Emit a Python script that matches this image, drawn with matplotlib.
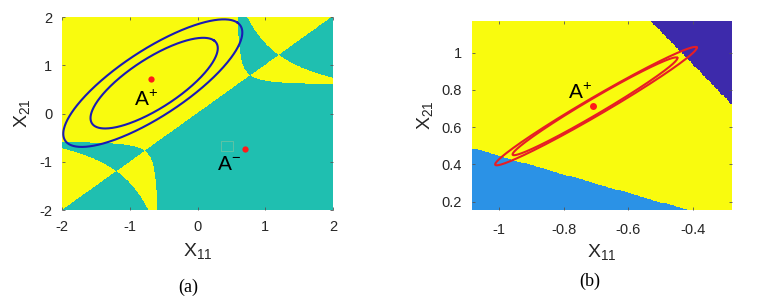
import numpy as np
import matplotlib
matplotlib.use("Agg")
import matplotlib.pyplot as plt

plt.rcParams["font.family"] = ["Liberation Sans", "DejaVu Sans"]
plt.rcParams["mathtext.fontset"] = "custom"
plt.rcParams["mathtext.rm"] = "Liberation Sans"
plt.rcParams["mathtext.it"] = "Liberation Sans"
plt.rcParams["axes.unicode_minus"] = False

YELLOW = "#f9fb0e"
TEAL = "#1fbfb0"
DARKBLUE = "#3d2aab"
LIGHTBLUE = "#2b92e6"
TXT = "#262626"

# ---- panel (a) data ----
xlim_a = (-2, 2)
ylim_a = (-2, 2)
ticks_a = [-2, -1, 0, 1, 2]
# corner boundary curves (x+a)(y+a)=k, mirrored in the upper right corner
curve_a = [0.06, 0.56]
curve_k = [1.30, 0.0484]
# blue ellipses: centre, semi axis along the diagonal, semi axis across it
ell_a_cx = [-0.66, -0.64]
ell_a_cy = [0.63, 0.63]
ell_a_major = [1.77, 1.25]
ell_a_minor = [0.60, 0.45]
point_plus_a = (-0.69, 0.71)
point_minus_a = (0.70, -0.73)

# ---- panel (b) data ----
xlim_b = (-1.085, -0.28)
ylim_b = (0.155, 1.17)
xticks_b = [-1, -0.8, -0.6, -0.4]
yticks_b = [0.2, 0.4, 0.6, 0.8, 1.0]
xtick_labels_b = ["-1", "-0.8", "-0.6", "-0.4"]
ytick_labels_b = ["0.2", "0.4", "0.6", "0.8", "1"]
# straight boundaries: point on line and slope
dark_line = (-0.5325, 1.17, -1.78)
light_line = (-1.085, 0.484, -0.495)
# red ellipses: centre, major half vector, minor half vector
ell_b_cx = [-0.700, -0.703]
ell_b_cy = [0.713, 0.712]
ell_b_major = [(0.312, 0.315), (0.255, 0.260)]
ell_b_minor = [(-0.0140, 0.0420), (-0.0120, 0.0365)]
point_plus_b = (-0.708, 0.712)


def inside(x, y, a, k):
    return (x + a < 0) & (y + a < 0) & ((x + a) * (y + a) > k)


fig = plt.figure(figsize=(7.62, 3.04), dpi=100)

# ================= (a) =================
ax = fig.add_axes([0.0814, 0.309, 0.3556, 0.635])
xs = np.linspace(xlim_a[0], xlim_a[1], 900)
ys = np.linspace(ylim_a[0], ylim_a[1], 900)
X, Y = np.meshgrid(xs, ys)
g = np.ones_like(X)
for a, k in zip(curve_a, curve_k):
    g = g * np.where(inside(X, Y, a, k), -1, 1)
    g = g * np.where(inside(-X, -Y, a, k), -1, 1)
cls = ((Y - X) * g > 0).astype(float)
cmap_a = matplotlib.colors.ListedColormap([TEAL, YELLOW])
ax.imshow(cls, extent=[xlim_a[0], xlim_a[1], ylim_a[0], ylim_a[1]],
          origin="lower", cmap=cmap_a, aspect="auto", interpolation="nearest")

t = np.linspace(0, 2 * np.pi, 400)
for cx, cy, A, B in zip(ell_a_cx, ell_a_cy, ell_a_major, ell_a_minor):
    ex = cx + (A * np.cos(t) - B * np.sin(t)) / np.sqrt(2)
    ey = cy + (A * np.cos(t) + B * np.sin(t)) / np.sqrt(2)
    ax.plot(ex, ey, color="#1a1ab4", lw=1.5)

ax.plot(*point_plus_a, "o", color="#ff1a1a", ms=4.5, mec="none")
ax.plot(*point_minus_a, "o", color="#ff1a1a", ms=4.5, mec="none")
ax.text(-0.76, 0.15, r"$\mathrm{A}^{+}$", fontsize=15, color="black",
        ha="center", va="baseline")
ax.text(0.47, -1.18, r"$\mathrm{A}^{-}$", fontsize=15, color="black",
        ha="center", va="baseline")
ax.add_patch(plt.Rectangle((0.34, -0.77), 0.19, 0.21, fill=False,
                           ec="#9ac79a", lw=0.5, alpha=0.7))

ax.set_xlim(xlim_a)
ax.set_ylim(ylim_a)
ax.set_xticks(ticks_a)
ax.set_yticks(ticks_a)
ax.set_xlabel(r"X$_{11}$", fontsize=14, color=TXT, labelpad=5)
ax.set_ylabel(r"X$_{21}$", fontsize=14, color=TXT, labelpad=5)

# ================= (b) =================
bx = fig.add_axes([0.619, 0.309, 0.341, 0.622])
xs = np.arange(xlim_b[0], xlim_b[1] + 0.004, 0.004)
ys = np.arange(ylim_b[0], ylim_b[1] + 0.005, 0.005)
X, Y = np.meshgrid(xs, ys)
cls = np.full(X.shape, 1.0)
x0, y0, s = light_line
cls[Y < y0 + s * (X - x0)] = 0
x0, y0, s = dark_line
cls[Y > y0 + s * (X - x0)] = 2
cmap_b = matplotlib.colors.ListedColormap([LIGHTBLUE, YELLOW, DARKBLUE])
bx.imshow(cls, extent=[xs[0], xs[-1], ys[0], ys[-1]], origin="lower",
          cmap=cmap_b, vmin=-0.5, vmax=2.5, aspect="auto",
          interpolation="nearest")

for cx, cy, (ux, uy), (vx, vy) in zip(ell_b_cx, ell_b_cy, ell_b_major, ell_b_minor):
    ex = cx + ux * np.cos(t) + vx * np.sin(t)
    ey = cy + uy * np.cos(t) + vy * np.sin(t)
    bx.plot(ex, ey, color="#e61e24", lw=1.5)

bx.plot(*point_plus_b, "o", color="#ff1a1a", ms=5, mec="none")
bx.text(-0.748, 0.751, r"$\mathrm{A}^{+}$", fontsize=15, color="black",
        ha="center", va="baseline")

bx.set_xlim(xlim_b)
bx.set_ylim(ylim_b)
bx.set_xticks(xticks_b)
bx.set_xticklabels(xtick_labels_b)
bx.set_yticks(yticks_b)
bx.set_yticklabels(ytick_labels_b)
bx.set_xlabel(r"X$_{11}$", fontsize=14, color=TXT, labelpad=4)
bx.set_ylabel(r"X$_{21}$", fontsize=14, color=TXT, labelpad=5)

for a_ in (ax, bx):
    for sp in a_.spines.values():
        sp.set_visible(False)
    a_.tick_params(direction="in", length=2.5, width=0.6, color="#555555",
                   labelsize=10.5, labelcolor=TXT, pad=7,
                   top=True, right=True)
bx.tick_params(axis="x", pad=9)

fig.text(188 / 762, 1 - 287 / 304, "(a)", ha="center", va="center",
         family="Liberation Serif", fontsize=13)
fig.text(590 / 762, 1 - 281 / 304, "(b)", ha="center", va="center",
         family="Liberation Serif", fontsize=13)

fig.savefig("out.png", dpi=100)
